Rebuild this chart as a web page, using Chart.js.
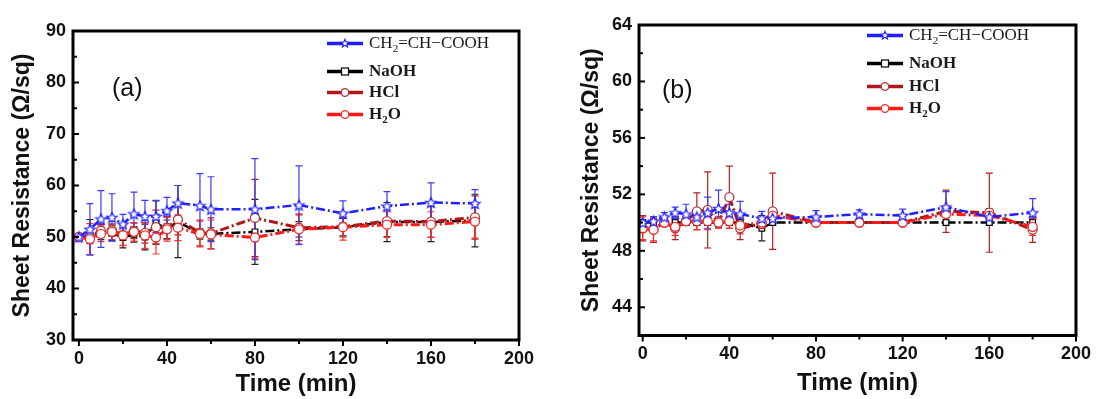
<!DOCTYPE html>
<html><head><meta charset="utf-8">
<script src="https://cdn.jsdelivr.net/npm/chart.js@4.4.1/dist/chart.umd.min.js"></script>
<style>
body{margin:0;background:#fff;width:1099px;height:399px;overflow:hidden;position:relative;font-family:"Liberation Sans",Arial,sans-serif}
canvas{position:absolute;top:0}
.lbl{position:absolute;font-size:25px;color:#111;line-height:1}
.leg{position:absolute;display:flex;align-items:center;height:20px;color:#1a1a1a;font-family:"Liberation Serif","Times New Roman",serif}
.leg svg{margin-right:6px}
.leg .b{font-weight:bold;font-size:17px}
.leg .r{font-size:17px}
sub{font-size:11px;vertical-align:-4px;line-height:0}
</style></head>
<body>
<canvas id="ca" width="549" height="399" style="left:0;width:549px;height:399px"></canvas>
<canvas id="cb" width="549" height="399" style="left:550px;width:549px;height:399px"></canvas>
<div class="lbl" style="left:112px;top:75px">(a)</div>
<div class="lbl" style="left:662px;top:77px">(b)</div>
<div id="legA"></div><div id="legB"></div>
<script>
// ---- data ----
const times = [0,5,10,15,20,25,30,35,40,45,55,60,80,100,120,140,160,180];
const seriesNames = ['CH2=CH-COOH','NaOH','HCl','H2O'];
// panel (a)
const acidA    = [50.0,51.5,53.5,53.8,52.5,54.5,54.0,54.0,55.1,56.6,56.1,55.4,55.4,56.2,54.6,56.0,56.7,56.5];
const acidErrA = [0,5.0,5.5,4.6,1.9,4.2,3.1,3.1,2.6,3.4,6.2,6.3,9.8,7.6,2.4,2.8,3.8,2.7];
const naohA    = [50.0,50.0,51.0,50.8,49.9,50.5,50.0,52.8,51.5,53.0,50.6,50.6,51.0,51.5,51.9,52.9,52.9,53.2];
const naohErrA = [0,3.4,1.5,1.5,2.0,1.5,2.5,4.2,1.8,7.0,1.0,1.2,6.3,1.5,1.7,3.8,3.8,5.1];
const hclA     = [50.0,50.2,51.2,51.3,50.4,51.2,50.8,51.9,51.8,53.4,50.8,50.7,53.7,51.8,52.0,53.1,53.0,53.8];
const hclErrA  = [0,1.5,1.2,1.2,2.0,1.5,2.0,3.3,2.2,3.0,2.5,3.0,7.5,2.5,2.0,3.0,3.0,4.2];
const h2oA     = [50.0,49.6,50.6,51.0,50.3,51.0,50.3,49.9,51.5,51.8,50.6,50.5,49.9,51.5,51.9,52.4,52.4,53.0];
const h2oErrA  = [0,3.0,1.5,1.5,2.0,1.8,2.5,3.2,2.3,2.5,2.5,2.8,4.0,3.0,2.5,2.5,2.5,3.2];
// panel (b)
const acidB    = [50.0,50.1,50.4,50.7,50.6,50.4,50.7,51.0,50.7,50.6,50.3,50.3,50.4,50.6,50.5,51.1,50.4,50.7];
const acidErrB = [0.2,0.3,0.3,0.4,0.7,0.5,1.1,1.3,0.6,0.9,0.5,0.3,0.45,0.3,0.45,1.1,0.3,1.0];
const naohB    = [50.0,50.0,50.0,50.0,50.0,50.0,50.0,50.0,50.0,50.0,49.6,50.0,50.0,50.0,50.0,50.0,50.0,50.0];
const naohErrB = [0.2,0.2,0.2,0.2,0.2,0.2,0.2,0.2,0.2,0.2,0.9,0.2,0.2,0.2,0.2,0.2,0.2,0.2];
const hclB     = [49.6,49.5,50.0,49.6,50.1,50.8,50.9,50.0,51.8,49.6,49.9,50.8,50.0,50.0,50.0,50.8,50.7,49.5];
const hclErrB  = [0.9,0.9,0.2,0.8,0.3,1.3,2.7,0.4,2.2,0.8,0.3,2.7,0.2,0.2,0.2,1.5,2.8,0.9];
const h2oB     = [49.6,49.5,50.0,49.7,50.1,50.1,50.1,50.0,50.1,49.8,50.0,50.5,50.0,50.0,50.0,50.6,50.5,49.7];
const h2oErrB  = [0.8,0.8,0.2,0.6,0.3,0.6,0.6,0.3,0.5,0.6,0.3,0.5,0.2,0.2,0.2,0.6,0.5,0.6];
// ticks
const xTicks  = [0,20,40,60,80,100,120,140,160,180,200];
const xLabels = [0,40,80,120,160,200];
const yTicksA  = [30,35,40,45,50,55,60,65,70,75,80,85,90];
const yLabelsA = [30,40,50,60,70,80,90];
const yTicksB  = [42,44,46,48,50,52,54,56,58,60,62,64];
const yLabelsB = [44,48,52,56,60,64];

// ---- styles ----
const BLUE='#1f1fff', BLACK='#000000', DRED='#b01818', RED='#ff1a1a';
function starImage(color, r){
  const s=Math.ceil(r*2+4), c=document.createElement('canvas'); c.width=c.height=s;
  const g=c.getContext('2d'); g.translate(s/2,s/2+0.5); g.beginPath();
  for(let i=0;i<10;i++){const rad=i%2?r*0.45:r; const a=-Math.PI/2+i*Math.PI/5; g.lineTo(rad*Math.cos(a),rad*Math.sin(a));}
  g.closePath(); g.fillStyle='#fff'; g.fill(); g.lineWidth=1.2; g.strokeStyle=color; g.stroke(); return c;
}
const starPt = starImage(BLUE,5.5);

function pts(arr){return times.map((t,i)=>({x:t,y:arr[i]}));}
function makeSets(acid,acidE,naoh,naohE,hcl,hclE,h2o,h2oE){
  const dash=[9,3,2,3];
  return [
    {label:seriesNames[0],data:pts(acid),err:acidE,errColor:'#3a3aff',borderColor:BLUE,borderWidth:2.5,borderDash:dash,pointStyle:starPt,pointRadius:5,order:1},
    {label:seriesNames[3],data:pts(h2o),err:h2oE,errColor:'#ff3030',borderColor:RED,borderWidth:3,borderDash:dash,pointStyle:'circle',pointRadius:4.5,pointBackgroundColor:'#fff',pointBorderColor:'#f03030',pointBorderWidth:1.3,order:2},
    {label:seriesNames[2],data:pts(hcl),err:hclE,errColor:'#b02020',borderColor:DRED,borderWidth:3,borderDash:dash,pointStyle:'circle',pointRadius:4.5,pointBackgroundColor:'#fff',pointBorderColor:'#b03838',pointBorderWidth:1.3,order:3},
    {label:seriesNames[1],data:pts(naoh),err:naohE,errColor:'#222',borderColor:BLACK,borderWidth:2.5,borderDash:dash,pointStyle:'rect',pointRadius:4,pointBackgroundColor:'#fff',pointBorderColor:'#000',pointBorderWidth:1.2,order:4}
  ];
}

const errorBars={id:'errorBars',beforeDatasetsDraw(chart){
  const {ctx,scales:{x,y}}=chart;
  [...chart.data.datasets].reverse().forEach(ds=>{
    if(!ds.err)return; ctx.save(); ctx.strokeStyle=ds.errColor; ctx.lineWidth=1.2;
    ds.data.forEach((p,j)=>{const e=ds.err[j]; if(!e)return;
      const px=x.getPixelForValue(p.x), t=y.getPixelForValue(p.y+e), b=y.getPixelForValue(p.y-e);
      ctx.beginPath(); ctx.moveTo(px,t); ctx.lineTo(px,b);
      ctx.moveTo(px-3.5,t); ctx.lineTo(px+3.5,t); ctx.moveTo(px-3.5,b); ctx.lineTo(px+3.5,b); ctx.stroke();});
    ctx.restore();});
}};
const frame={id:'frame',afterDraw(chart){
  const {ctx,chartArea:a,scales:{x,y}}=chart, o=chart.options.plugins.frame;
  ctx.save(); ctx.strokeStyle='#000'; ctx.lineWidth=2;
  o.xt.forEach(v=>{const px=x.getPixelForValue(v),L=o.xl.includes(v)?6:4; ctx.beginPath(); ctx.moveTo(px,a.bottom); ctx.lineTo(px,a.bottom+L); ctx.stroke();});
  o.yt.forEach(v=>{const py=y.getPixelForValue(v),L=o.yl.includes(v)?6:4; ctx.beginPath(); ctx.moveTo(a.left,py); ctx.lineTo(a.left+L,py); ctx.stroke();});
  ctx.lineWidth=3; ctx.strokeRect(a.left,a.top,a.right-a.left,a.bottom-a.top); ctx.restore();
}};

function makeChart(id,sets,xmin,ymin,ymax,yt,yl,yW,xH,padR,padT,yTitlePad,xTitlePad){
  return new Chart(document.getElementById(id),{
    type:'line',
    data:{datasets:sets},
    plugins:[errorBars,frame],
    options:{responsive:false,animation:false,devicePixelRatio:1,
      layout:{padding:{left:0,right:padR,top:padT,bottom:0}},
      plugins:{legend:{display:false},tooltip:{enabled:false},frame:{xt:xTicks,xl:xLabels,yt:yt,yl:yl}},
      elements:{line:{tension:0}},
      scales:{
        x:{type:'linear',min:xmin,max:200,grid:{display:false,drawTicks:false},border:{display:false},
          afterBuildTicks:s=>{s.ticks=xTicks.map(v=>({value:v}));},
          afterFit:s=>{s.height=xH;},
          ticks:{padding:8,color:'#111',font:{family:'Liberation Sans',size:18,weight:'bold'},maxRotation:0,autoSkip:false,
            callback:v=>xLabels.includes(v)?String(v):''},
          title:{display:true,text:'Time (min)',color:'#111',font:{family:'Liberation Sans',size:24,weight:'bold'},padding:{top:0,bottom:xTitlePad}}},
        y:{min:ymin,max:ymax,grid:{display:false,drawTicks:false},border:{display:false},
          afterBuildTicks:s=>{s.ticks=yt.map(v=>({value:v}));},
          afterFit:s=>{s.width=yW;},
          ticks:{padding:7,color:'#111',font:{family:'Liberation Sans',size:18,weight:'bold'},autoSkip:false,
            callback:v=>yl.includes(v)?String(v):''},
          title:{display:true,text:'Sheet Resistance (Ω/sq)',color:'#111',font:{family:'Liberation Sans',size:23,weight:'bold'},padding:{top:yTitlePad,bottom:0}}}
      }}
  });
}
makeChart('ca',makeSets(acidA,acidErrA,naohA,naohErrA,hclA,hclErrA,h2oA,h2oErrA),-2.7,30,90,yTicksA,yLabelsA,73,59,30,31,9,0);
makeChart('cb',makeSets(acidB,acidErrB,naohB,naohErrB,hclB,hclErrB,h2oB,h2oErrB),-1.7,42,64,yTicksB,yLabelsB,89,63.5,16,25,28,1.5);

// ---- legends (HTML) ----
function legSvg(color,marker,mcolor){
  let m='';
  if(marker==='star'){let p=[];for(let i=0;i<10;i++){const r=i%2?1.9:4.3,a=-Math.PI/2+i*Math.PI/5;p.push((18+r*Math.cos(a)).toFixed(2)+','+(7.5+r*Math.sin(a)).toFixed(2));}
    m=`<polygon points="${p.join(' ')}" fill="#fff" stroke="${mcolor}" stroke-width="1.1"/>`;}
  else if(marker==='rect') m=`<rect x="14.5" y="4" width="7" height="7" fill="#fff" stroke="${mcolor}" stroke-width="1.2"/>`;
  else m=`<circle cx="18" cy="7.5" r="3.8" fill="#fff" stroke="${mcolor}" stroke-width="1.3"/>`;
  return `<svg width="36" height="15"><line x1="0" y1="7.5" x2="36" y2="7.5" stroke="${color}" stroke-width="3.5"/>${m}</svg>`;
}
const legItems=[
  {html:'<span class="r">CH<sub>2</sub>=CH−COOH</span>',c:BLUE,m:'star',mc:BLUE},
  {html:'<span class="b">NaOH</span>',c:BLACK,m:'rect',mc:'#000'},
  {html:'<span class="b">HCl</span>',c:DRED,m:'circle',mc:'#b03838'},
  {html:'<span class="b">H<sub>2</sub>O</span>',c:RED,m:'circle',mc:'#f03030'}
];
function buildLegend(id,left,ys){
  const el=document.getElementById(id);
  legItems.forEach((it,i)=>{const d=document.createElement('div'); d.className='leg';
    d.style.left=left+'px'; d.style.top=(ys[i]-10)+'px'; d.innerHTML=legSvg(it.c,it.m,it.mc)+it.html; el.appendChild(d);});
}
buildLegend('legA',327,[43,71,92,114]);
buildLegend('legB',867,[35,63,86,108]);
</script>
</body></html>
